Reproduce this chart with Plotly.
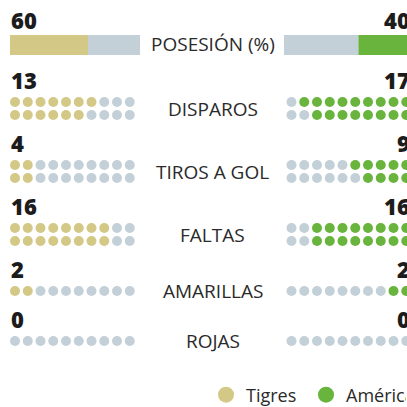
import plotly.graph_objects as go

# Match stats: Tigres (left) vs América (right)
teams = ["Tigres", "América"]
possession = [60, 40]
stat_labels = ["DISPAROS", "TIROS A GOL", "FALTAS", "AMARILLAS", "ROJAS"]
tigres_vals = [13, 4, 16, 2, 0]
america_vals = [17, 9, 16, 2, 0]
dot_capacity = [20, 20, 20, 10, 10]

GOLD = "#d4c886"
GREEN = "#68b43d"
GREY = "#c4d0d8"
INK = "#1c1c1c"
TEXT = "#2a2a2a"

W = H = 407
LEFT_X0 = 15.0
RIGHT_X0 = 291.5
PITCH = 12.75
ROW_GAP = 13.0
CENTER_X = 212.5
BAR_Y = 45.0
BAR_H = 20.0
BLOCK_GAP = 50.0
NUM_OFFSET = 22.0
N_COLS = 10
RIGHT_EDGE = 412.0

fig = go.Figure()

# possession bars, each on its own 0-100 axis
fig.add_trace(go.Bar(y=[BAR_Y], x=[possession[0]], base=[0], orientation="h",
                     width=BAR_H, marker=dict(color=GOLD, line_width=0),
                     xaxis="x2", yaxis="y", showlegend=False, hoverinfo="skip"))
fig.add_trace(go.Bar(y=[BAR_Y], x=[100 - possession[0]], base=[possession[0]], orientation="h",
                     width=BAR_H, marker=dict(color=GREY, line_width=0),
                     xaxis="x2", yaxis="y", showlegend=False, hoverinfo="skip"))
fig.add_trace(go.Bar(y=[BAR_Y], x=[100 - possession[1]], base=[0], orientation="h",
                     width=BAR_H, marker=dict(color=GREY, line_width=0),
                     xaxis="x3", yaxis="y", showlegend=False, hoverinfo="skip"))
fig.add_trace(go.Bar(y=[BAR_Y], x=[possession[1]], base=[100 - possession[1]], orientation="h",
                     width=BAR_H, marker=dict(color=GREEN, line_width=0),
                     xaxis="x3", yaxis="y", showlegend=False, hoverinfo="skip"))

annotations = []


def num(text, y, side):
    if side == "left":
        x, anchor = 9 / W, "left"
    else:
        x, anchor = RIGHT_EDGE / W, "right"
    annotations.append(dict(x=x, y=y, xref="paper", yref="y", text=str(text),
                            showarrow=False, xanchor=anchor, yanchor="middle",
                            font=dict(family="Open Sans", size=22, color=INK, weight=800)))


def label(text, y):
    annotations.append(dict(x=CENTER_X, y=y, xref="x", yref="y", text=text,
                            showarrow=False, xanchor="center", yanchor="middle",
                            font=dict(family="Open Sans", size=19, color=TEXT)))


num(possession[0], BAR_Y - 25, "left")
num(possession[1], BAR_Y - 25, "right")
label("POSESIÓN (%)", BAR_Y - 1)

xs, ys, cs = [], [], []
prev_bottom = BAR_Y + BAR_H / 2 - 3
for label_text, lv, rv, cap in zip(stat_labels, tigres_vals, america_vals, dot_capacity):
    rows = cap // N_COLS
    top = prev_bottom + BLOCK_GAP
    for c in range(N_COLS):
        for r in range(rows):
            y = top + r * ROW_GAP
            # Tigres fills from the left, column by column
            xs.append(LEFT_X0 + c * PITCH)
            ys.append(y)
            cs.append(GOLD if c * rows + r < lv else GREY)
            # América fills from the right
            xs.append(RIGHT_X0 + c * PITCH)
            ys.append(y)
            cs.append(GREEN if (N_COLS - 1 - c) * rows + r < rv else GREY)
    bottom = top + (rows - 1) * ROW_GAP
    num(lv, top - NUM_OFFSET, "left")
    num(rv, top - NUM_OFFSET, "right")
    label(label_text, (top + bottom) / 2)
    prev_bottom = bottom

fig.add_trace(go.Scatter(x=xs, y=ys, mode="markers",
                         marker=dict(size=10, color=cs, line_width=0),
                         showlegend=False, hoverinfo="skip"))

for name, col in zip(teams, [GOLD, GREEN]):
    fig.add_trace(go.Scatter(x=[None], y=[None], mode="markers", name=name,
                             marker=dict(size=17, color=col, line_width=0)))

fig.update_layout(
    width=W, height=H,
    margin=dict(l=0, r=0, t=0, b=0, autoexpand=False),
    paper_bgcolor="white", plot_bgcolor="rgba(0,0,0,0)",
    barmode="overlay",
    annotations=annotations,
    xaxis=dict(range=[0, W], visible=False, fixedrange=True),
    xaxis2=dict(domain=[10 / W, 140 / W], range=[0, 100], visible=False, anchor="y"),
    xaxis3=dict(domain=[284 / W, 1.0], range=[0, 100 * (W - 284) / 124], visible=False,
                anchor="y"),
    yaxis=dict(range=[H, 0], visible=False, fixedrange=True),
    legend=dict(orientation="h", x=206 / W, xanchor="left", y=1 - 395 / H, yanchor="middle",
                font=dict(family="Open Sans", size=18, color=TEXT),
                bgcolor="rgba(0,0,0,0)", itemsizing="trace",
                entrywidth=55, entrywidthmode="pixels"),
)

fig.write_html("out.html")
